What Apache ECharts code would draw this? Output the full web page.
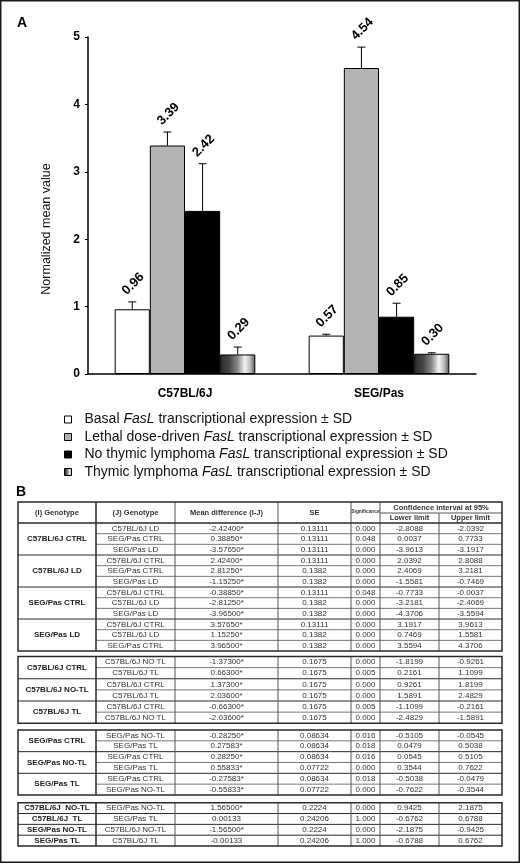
<!DOCTYPE html>
<html><head><meta charset="utf-8">
<script src="https://cdn.jsdelivr.net/npm/echarts@6/dist/echarts.min.js"></script>
<style>html,body{margin:0;padding:0;background:#fff}#c{width:520px;height:864px}</style>
</head><body><div id="c"></div>
<script>
// ---------- Panel A data ----------
const categories = ['C57BL/6J', 'SEG/Pas'];
const seriesNames = ['Basal', 'Lethal dose-driven', 'No thymic lymphoma', 'Thymic lymphoma'];
const basalValues = [0.96, 0.57];
const lethalValues = [3.39, 4.54];
const noTLValues = [2.42, 0.85];
const tlValues = [0.29, 0.30];
const basalSD = [0.11, 0.02];
const lethalSD = [0.20, 0.31];
const noTLSD = [0.70, 0.20];
const tlSD = [0.11, 0.015];
const yAxisTitle = 'Normalized mean value';
const legendTail = 'transcriptional expression \u00b1 SD';

// ---------- Panel B data ----------
const tableHeaders = ['(I) Genotype', '(J) Genotype', 'Mean difference (I-J)', 'SE', 'Significance', 'Confidence interval at 95%', 'Lower limit', 'Upper limit'];
const tableBlock1 = [
  ['C57BL/6J CTRL', 'C57BL/6J LD', '-2.42400*', '0.13111', '0.000', '-2.8088', '-2.0392'],
  ['C57BL/6J CTRL', 'SEG/Pas CTRL', '0.38850*', '0.13111', '0.048', '0.0037', '0.7733'],
  ['C57BL/6J CTRL', 'SEG/Pas LD', '-3.57650*', '0.13111', '0.000', '-3.9613', '-3.1917'],
  ['C57BL/6J LD', 'C57BL/6J CTRL', '2.42400*', '0.13111', '0.000', '2.0392', '2.8088'],
  ['C57BL/6J LD', 'SEG/Pas CTRL', '2.81250*', '0.1382', '0.000', '2.4069', '3.2181'],
  ['C57BL/6J LD', 'SEG/Pas LD', '-1.15250*', '0.1382', '0.000', '-1.5581', '-0.7469'],
  ['SEG/Pas CTRL', 'C57BL/6J CTRL', '-0.38850*', '0.13111', '0.048', '-0.7733', '-0.0037'],
  ['SEG/Pas CTRL', 'C57BL/6J LD', '-2.81250*', '0.1382', '0.000', '-3.2181', '-2.4069'],
  ['SEG/Pas CTRL', 'SEG/Pas LD', '-3.96500*', '0.1382', '0.000', '-4.3706', '-3.5594'],
  ['SEG/Pas LD', 'C57BL/6J CTRL', '3.57650*', '0.13111', '0.000', '3.1917', '3.9613'],
  ['SEG/Pas LD', 'C57BL/6J LD', '1.15250*', '0.1382', '0.000', '0.7469', '1.5581'],
  ['SEG/Pas LD', 'SEG/Pas CTRL', '3.96500*', '0.1382', '0.000', '3.5594', '4.3706']
];
const tableBlock2 = [
  ['C57BL/6J CTRL', 'C57BL/6J NO TL', '-1.37300*', '0.1675', '0.000', '-1.8199', '-0.9261'],
  ['C57BL/6J CTRL', 'C57BL/6J TL', '0.66300*', '0.1675', '0.005', '0.2161', '1.1099'],
  ['C57BL/6J NO-TL', 'C57BL/6J CTRL', '1.37300*', '0.1675', '0.000', '0.9261', '1.8199'],
  ['C57BL/6J NO-TL', 'C57BL/6J TL', '2.03600*', '0.1675', '0.000', '1.5891', '2.4829'],
  ['C57BL/6J TL', 'C57BL/6J CTRL', '-0.66300*', '0.1675', '0.005', '-1.1099', '-0.2161'],
  ['C57BL/6J TL', 'C57BL/6J NO TL', '-2.03600*', '0.1675', '0.000', '-2.4829', '-1.5891']
];
const tableBlock3 = [
  ['SEG/Pas CTRL', 'SEG/Pas NO-TL', '-0.28250*', '0.08634', '0.016', '-0.5105', '-0.0545'],
  ['SEG/Pas CTRL', 'SEG/Pas TL', '0.27583*', '0.08634', '0.018', '0.0479', '0.5038'],
  ['SEG/Pas NO-TL', 'SEG/Pas CTRL', '0.28250*', '0.08634', '0.016', '0.0545', '0.5105'],
  ['SEG/Pas NO-TL', 'SEG/Pas TL', '0.55833*', '0.07722', '0.000', '0.3544', '0.7622'],
  ['SEG/Pas TL', 'SEG/Pas CTRL', '-0.27583*', '0.08634', '0.018', '-0.5038', '-0.0479'],
  ['SEG/Pas TL', 'SEG/Pas NO-TL', '-0.55833*', '0.07722', '0.000', '-0.7622', '-0.3544']
];
const tableBlock4 = [
  ['C57BL/6J  NO-TL', 'SEG/Pas NO-TL', '1.56500*', '0.2224', '0.000', '0.9425', '2.1875'],
  ['C57BL/6J  TL', 'SEG/Pas TL', '0.00133', '0.24206', '1.000', '-0.6762', '0.6788'],
  ['SEG/Pas NO-TL', 'C57BL/6J NO-TL', '-1.56500*', '0.2224', '0.000', '-2.1875', '-0.9425'],
  ['SEG/Pas TL', 'C57BL/6J TL', '-0.00133', '0.24206', '1.000', '-0.6788', '0.6762']
];

// ---------- layout / style ----------
const FF = '"Liberation Sans", Arial, Helvetica, sans-serif';
const CAT_GAP = 0.275;
const colX = [18, 96, 175, 278, 351, 380, 439, 502];
const headerTop = 502, headerMid = 513, headerBottom = 523;
const blockTops = [523, 656.5, 730, 802.7];
const blockRowH = [10.67, 11.13, 10.83, 10.83];
const DARK = '#2a2a2a', THIN = '#555', TXT = '#333';

const valueArrays = [basalValues, lethalValues, noTLValues, tlValues];
const sdArrays = [basalSD, lethalSD, noTLSD, tlSD];
const barColors = [
  '#ffffff', '#b4b4b4', '#000000',
  { type: 'linear', x: 0, y: 0, x2: 1, y2: 0, colorStops: [
    { offset: 0, color: '#2b2b2b' }, { offset: 0.25, color: '#454545' },
    { offset: 0.5, color: '#8a8a8a' }, { offset: 0.7, color: '#f4f4f4' },
    { offset: 0.85, color: '#bdbdbd' }, { offset: 1, color: '#555555' } ] }
];

const barSeries = seriesNames.map((name, s) => ({
  name, type: 'bar', barGap: 0, barCategoryGap: (CAT_GAP * 100) + '%',
  data: valueArrays[s],
  itemStyle: { color: barColors[s], borderColor: '#000', borderWidth: 1 },
  z: 2
}));

const errData = [];
valueArrays.forEach((arr, s) => arr.forEach((v, c) => errData.push([c, v, sdArrays[s][c], s])));

const errSeries = {
  type: 'custom', name: 'err', z: 5, silent: true,
  data: errData,
  encode: { x: 0, y: 1 },
  renderItem(params, api) {
    const c = api.value(0), v = api.value(1), sd = api.value(2), s = api.value(3);
    const band = api.size([1, 0])[0];
    const bw = band * (1 - CAT_GAP) / 4;
    const base = api.coord([c, v]);
    const top = api.coord([c, v + sd]);
    const x = base[0] + (s - 1.5) * bw;
    return {
      type: 'group',
      children: [
        { type: 'line', shape: { x1: x, y1: base[1], x2: x, y2: top[1] }, style: { stroke: '#000', lineWidth: 1 } },
        { type: 'line', shape: { x1: x - 4, y1: top[1], x2: x + 4, y2: top[1] }, style: { stroke: '#000', lineWidth: 1 } },
        { type: 'text', x: x + 1, y: top[1] - 18, rotation: Math.PI / 4,
          style: { text: v.toFixed(2), fontSize: 13, fontWeight: 'bold', fontFamily: FF, fill: '#000', align: 'center', verticalAlign: 'middle' } }
      ]
    };
  }
};

// ---------- table graphics ----------
const G = [];
function hl(x1, x2, y, w, c) { G.push({ type: 'line', silent: true, z: 10, shape: { x1, y1: y, x2, y2: y }, style: { stroke: c, lineWidth: w } }); }
function vl(x, y1, y2, w, c) { G.push({ type: 'line', silent: true, z: 10, shape: { x1: x, y1, x2: x, y2 }, style: { stroke: c, lineWidth: w } }); }
function tx(x, y, t, size, bold, col) {
  G.push({ type: 'text', silent: true, z: 11, x, y, style: { text: t, fontSize: size, fontWeight: bold ? 'bold' : 'normal', fontFamily: FF, fill: col || TXT, align: 'center', verticalAlign: 'middle' } });
}
function cx(i) { return (colX[i] + colX[i + 1]) / 2; }

// outer frame
G.push({ type: 'rect', silent: true, z: 20, shape: { x: 0.75, y: 0.75, width: 518.5, height: 861.5 }, style: { fill: null, stroke: '#1a1a1a', lineWidth: 1.5 } });
// panel letters
G.push({ type: 'text', x: 17, y: 23, style: { text: 'A', fontSize: 14, fontWeight: 'bold', fontFamily: FF, fill: '#000', verticalAlign: 'middle' } });
G.push({ type: 'text', x: 16, y: 492, style: { text: 'B', fontSize: 14, fontWeight: 'bold', fontFamily: FF, fill: '#000', verticalAlign: 'middle' } });
// y axis title
G.push({ type: 'text', x: 47, y: 229, rotation: Math.PI / 2, style: { text: yAxisTitle, fontSize: 12.5, fontFamily: FF, fill: '#111', align: 'center', verticalAlign: 'middle' } });

// header
const hMidY = (headerTop + headerBottom) / 2;
tx(cx(0), hMidY, tableHeaders[0], 7.5, true);
tx(cx(1), hMidY, tableHeaders[1], 7.5, true);
tx(cx(2), hMidY, tableHeaders[2], 7.5, true);
tx(cx(3), hMidY, tableHeaders[3], 7.5, true);
tx(cx(4), hMidY - 1, tableHeaders[4], 4.8, true);
tx((colX[5] + colX[7]) / 2, (headerTop + headerMid) / 2 + 0.5, tableHeaders[5], 7.5, true);
tx(cx(5), (headerMid + headerBottom) / 2, tableHeaders[6], 7.5, true);
tx(cx(6), (headerMid + headerBottom) / 2, tableHeaders[7], 7.5, true);
hl(colX[5], colX[7], headerMid, 1, THIN);
vl(colX[6], headerMid, headerBottom, 1, THIN);
for (let i = 2; i <= 5; i++) vl(colX[i], headerTop, headerBottom, 1, THIN);
vl(colX[1], headerTop, headerBottom, 1.5, DARK);

const blocks = [tableBlock1, tableBlock2, tableBlock3, tableBlock4];
blocks.forEach((rows, b) => {
  const top = blockTops[b], rh = blockRowH[b];
  const bottom = top + rows.length * rh;
  let gStart = 0;
  rows.forEach((r, i) => {
    const yc = top + (i + 0.5) * rh;
    for (let k = 1; k < 7; k++) tx(cx(k), yc, r[k], 8, false);
    const last = i === rows.length - 1 || rows[i + 1][0] !== r[0];
    if (last) {
      tx(cx(0), top + ((gStart + i + 1) / 2) * rh, r[0], 8, true, '#222');
      if (i < rows.length - 1) hl(colX[0], colX[7], top + (i + 1) * rh, 1, DARK);
      gStart = i + 1;
    } else {
      hl(colX[1], colX[7], top + (i + 1) * rh, 0.8, THIN);
    }
  });
  for (let i = 2; i <= 6; i++) vl(colX[i], top, bottom, 1, THIN);
  vl(colX[1], top, bottom, 1.5, DARK);
  const ot = b === 0 ? headerTop : top;
  G.push({ type: 'rect', silent: true, z: 12, shape: { x: colX[0], y: ot, width: colX[7] - colX[0], height: bottom - ot }, style: { fill: null, stroke: DARK, lineWidth: 1.5 } });
  if (b === 0) hl(colX[0], colX[7], headerBottom, 1.5, DARK);
});

const richBase = { fontSize: 14, fontFamily: FF, color: '#111', lineHeight: 14 };
const option = {
  animation: false,
  backgroundColor: '#fff',
  textStyle: { fontFamily: FF },
  grid: { left: 88, right: 44, top: 37, bottom: 490, containLabel: false },
  xAxis: {
    type: 'category', data: categories,
    axisLine: { lineStyle: { color: '#000', width: 1.5 } },
    axisTick: { show: false },
    axisLabel: { fontSize: 12, fontWeight: 'bold', color: '#000', margin: 14, fontFamily: FF }
  },
  yAxis: {
    type: 'value', min: 0, max: 5, interval: 1,
    splitLine: { show: false },
    axisLine: { show: true, lineStyle: { color: '#000', width: 1.5 } },
    axisTick: { show: true, length: 3, lineStyle: { color: '#000' } },
    axisLabel: { fontSize: 12, fontWeight: 'bold', color: '#000', margin: 8, fontFamily: FF }
  },
  legend: {
    data: seriesNames, orient: 'vertical', left: 64, top: 412.5, padding: 0,
    icon: 'rect', itemWidth: 7, itemHeight: 7, itemGap: 3.5,
    selectedMode: false,
    itemStyle: { borderColor: '#000', borderWidth: 1 },
    formatter: name => '{s| }{t|' + name + ' }{i|FasL}{t| ' + legendTail + '}',
    textStyle: {
      fontSize: 14, fontFamily: FF, color: '#111', lineHeight: 14,
      rich: {
        s: { width: 8 },
        t: Object.assign({}, richBase),
        i: Object.assign({}, richBase, { fontStyle: 'italic' })
      }
    }
  },
  graphic: G,
  series: barSeries.concat([errSeries])
};
const chart = echarts.init(document.getElementById('c'), null, { renderer: 'canvas' });
chart.setOption(option);
</script></body></html>
